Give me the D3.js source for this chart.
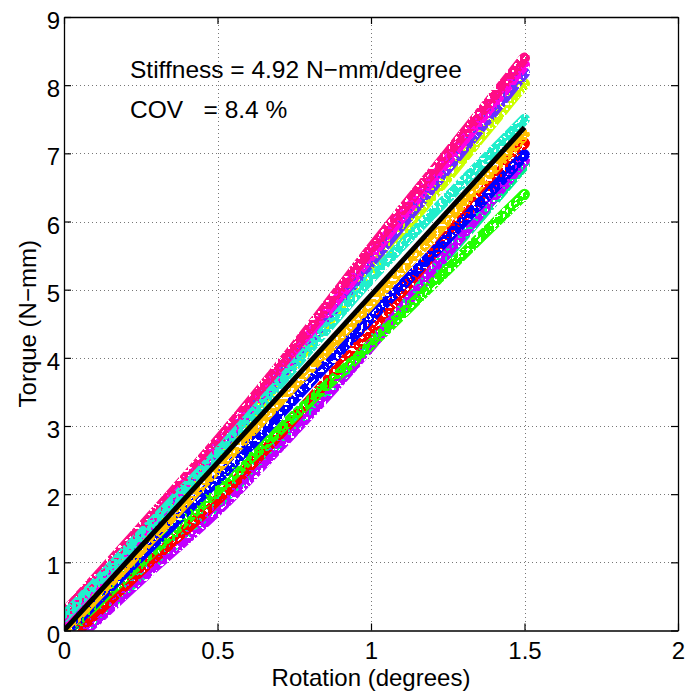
<!DOCTYPE html>
<html>
<head>
<meta charset="utf-8">
<script src="https://cdn.jsdelivr.net/npm/d3@7"></script>
<style>
  html, body { margin: 0; padding: 0; background: #fff; }
  svg { display: block; font-family: "Liberation Sans", Arial, Helvetica, sans-serif; }
  text { white-space: pre; }
</style>
</head>
<body>
<svg id="chart" width="688" height="694"></svg>
<script>
// ---- data ----
const rotation = [0, 0.25, 0.5, 0.75, 1.0, 1.25, 1.5];
const seriesNames = ["spring", "purple", "red", "lime", "blue", "orange", "yellowGreen", "violet", "magenta", "pink", "cyan"];
const seriesColors = ["#00f08c", "#c000ff", "#ff0000", "#22ff00", "#0000ff", "#ffbf00", "#ccff00", "#6633ff", "#ff00e6", "#ff0a85", "#22eecc"];
const spring      = [-0.25, 0.80, 1.85, 3.00, 4.22, 5.52, 6.83];
const purple      = [-0.30, 0.75, 1.76, 2.93, 4.18, 5.55, 6.90];
const red         = [-0.20, 0.88, 1.92, 3.12, 4.42, 5.80, 7.15];
const lime        = [-0.05, 1.00, 2.06, 3.15, 4.20, 5.30, 6.40];
const blue        = [-0.05, 1.09, 2.22, 3.40, 4.59, 5.76, 6.98];
const orange      = [0.00, 1.18, 2.38, 3.60, 4.80, 6.03, 7.27];
const yellowGreen = [0.10, 1.35, 2.60, 3.92, 5.30, 6.65, 8.02];
const violet      = [0.10, 1.38, 2.64, 3.98, 5.40, 6.78, 8.18];
const magenta     = [0.15, 1.42, 2.70, 4.05, 5.50, 6.90, 8.30];
const pink        = [0.25, 1.50, 2.78, 4.15, 5.60, 7.00, 8.40];
const cyan        = [0.20, 1.40, 2.60, 3.88, 5.17, 6.35, 7.50];
const seriesValues = [spring, purple, red, lime, blue, orange, yellowGreen, violet, magenta, pink, cyan];
const fitRotation = [0, 1.5];
const fitTorque = [0, 7.38];
const xTicks = [0, 0.5, 1, 1.5, 2];
const yTicks = [0, 1, 2, 3, 4, 5, 6, 7, 8, 9];
const xLabel = "Rotation (degrees)";
const yLabel = "Torque (N\u2212mm)";
const note1 = "Stiffness = 4.92 N\u2212mm/degree";
const note2 = "COV   = 8.4 %";

// ---- layout ----
const svg = d3.select("#chart");
const L = 64, R = 678, T = 17, B = 630.5;
const x = d3.scaleLinear().domain([0, 2]).range([L, R]);
const y = d3.scaleLinear().domain([0, 9]).range([B, T]);
const fs = 24;

const defs = svg.append("defs");
defs.append("clipPath").attr("id", "clip")
  .append("rect").attr("x", L).attr("y", T).attr("width", R - L).attr("height", B - T);
// speckle texture so the bands look like dense scatter
const table = "0 0 0 0 0 0 0 0 1 1 1 1 1 1 1 1 1 1 1 1";
seriesValues.forEach((v, i) => {
  const f = defs.append("filter").attr("id", "speck" + i)
    .attr("filterUnits", "userSpaceOnUse")
    .attr("x", 0).attr("y", 0).attr("width", 688).attr("height", 694);
  f.append("feTurbulence").attr("type", "fractalNoise").attr("baseFrequency", 0.33)
    .attr("numOctaves", 1).attr("seed", i * 7 + 1).attr("result", "noise");
  const ct = f.append("feComponentTransfer").attr("in", "noise").attr("result", "mask");
  ct.append("feFuncA").attr("type", "discrete").attr("tableValues", table);
  f.append("feComposite").attr("in", "SourceGraphic").attr("in2", "mask").attr("operator", "in");
});

// grid
const grid = svg.append("g").attr("stroke", "#777").attr("stroke-width", 1).attr("stroke-dasharray", "1,3");
xTicks.slice(1, -1).forEach(t => grid.append("line")
  .attr("x1", Math.round(x(t)) + 0.5).attr("x2", Math.round(x(t)) + 0.5).attr("y1", T).attr("y2", B));
yTicks.slice(1, -1).forEach(t => grid.append("line")
  .attr("y1", Math.round(y(t)) + 0.5).attr("y2", Math.round(y(t)) + 0.5).attr("x1", L).attr("x2", R));

// data bands
const plot = svg.append("g").attr("clip-path", "url(#clip)");
const line = d3.line().x(d => x(d[0])).y(d => y(d[1])).curve(d3.curveCatmullRom.alpha(0.5));
seriesValues.forEach((vals, i) => {
  const pts = rotation.map((r, j) => [r, vals[j]]);
  plot.append("path").datum(pts)
    .attr("d", line)
    .attr("fill", "none")
    .attr("stroke", seriesColors[i])
    .attr("stroke-width", 11)
    .attr("stroke-linecap", "round")
    .attr("stroke-linejoin", "round")
    .attr("filter", `url(#speck${i})`);
});
// fit line
plot.append("path").datum(fitRotation.map((r, j) => [r, fitTorque[j]]))
  .attr("d", d3.line().x(d => x(d[0])).y(d => y(d[1])))
  .attr("fill", "none").attr("stroke", "#000").attr("stroke-width", 5);

// axes (MATLAB style box with inward ticks on all sides)
const tickLen = 7;
const axB = svg.append("g").attr("transform", `translate(0,${B})`)
  .call(d3.axisBottom(x).tickValues(xTicks).tickSizeInner(-tickLen).tickSizeOuter(0).tickPadding(0).tickFormat(d3.format("")));
const axT = svg.append("g").attr("transform", `translate(0,${T})`)
  .call(d3.axisTop(x).tickValues(xTicks).tickSizeInner(-tickLen).tickSizeOuter(0).tickFormat(""));
const axL = svg.append("g").attr("transform", `translate(${L},0)`)
  .call(d3.axisLeft(y).tickValues(yTicks).tickSizeInner(-tickLen).tickSizeOuter(0).tickFormat(d3.format("")));
const axR = svg.append("g").attr("transform", `translate(${R},0)`)
  .call(d3.axisRight(y).tickValues(yTicks).tickSizeInner(-tickLen).tickSizeOuter(0).tickFormat(""));
[axB, axT, axL, axR].forEach(a => {
  a.select(".domain").attr("stroke", "#000").attr("stroke-width", 1.3);
  a.selectAll(".tick line").attr("stroke", "#000").attr("stroke-width", 1.2);
});
axB.selectAll(".tick text").attr("font-size", fs).attr("fill", "#000")
  .attr("font-family", "Liberation Sans, Arial, sans-serif")
  .attr("dy", null).attr("y", 28.5);
axL.selectAll(".tick text").attr("font-size", fs).attr("fill", "#000")
  .attr("font-family", "Liberation Sans, Arial, sans-serif")
  .attr("dy", null).attr("x", -4).attr("y", 11.5).attr("text-anchor", "end");

// labels
svg.append("text").attr("x", (L + R) / 2).attr("y", 686).attr("text-anchor", "middle")
  .attr("font-size", fs).text(xLabel);
svg.append("text").attr("transform", `translate(36,${(T + B) / 2}) rotate(-90)`).attr("text-anchor", "middle")
  .attr("font-size", fs).text(yLabel);

// annotations
svg.append("text").attr("x", 130).attr("y", 78).attr("font-size", 24.5).text(note1);
svg.append("text").attr("x", 130).attr("y", 118).attr("font-size", 24.5).text(note2);
</script>
</body>
</html>
